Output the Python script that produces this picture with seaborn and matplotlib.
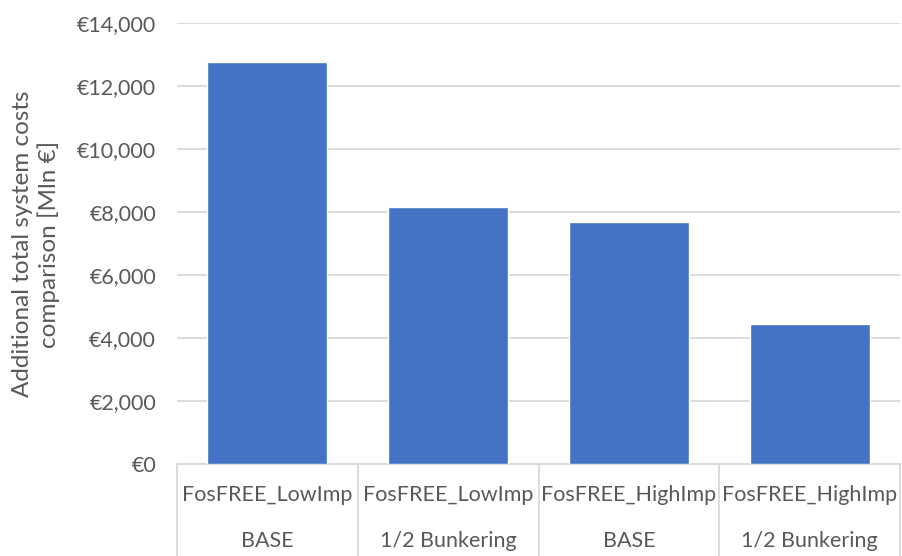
import matplotlib
matplotlib.use("Agg")
import matplotlib.pyplot as plt
import seaborn as sns
import pandas as pd
from matplotlib.ticker import FuncFormatter, FixedLocator

# ---- data ----
scenarios = ["FosFREE_LowImp", "FosFREE_LowImp", "FosFREE_HighImp", "FosFREE_HighImp"]
variants = ["BASE", "1/2 Bunkering", "BASE", "1/2 Bunkering"]
costs = [12770, 8165, 7680, 4430]
y_ticks = [0, 2000, 4000, 6000, 8000, 10000, 12000, 14000]
y_label = "Additional total system costs\ncomparison [Mln €]"

sns.set_theme(style="white")
plt.rcParams['font.family'] = ['Lato', 'DejaVu Sans']

TEXT = "#595959"
GRID = "#D9D9D9"
BAR = "#4472C4"

W, H = 902, 556
fig = plt.figure(figsize=(W / 100, H / 100), dpi=100)
x0, x1, yb, yt = 177, 900, 464, 23
ax = fig.add_axes([x0 / W, 1 - yb / H, (x1 - x0) / W, (yb - yt) / H])

df = pd.DataFrame({
    "label": [f"{s}|{v}" for s, v in zip(scenarios, variants)],
    "cost": costs,
})
sns.barplot(data=df, x="label", y="cost", color=BAR, saturation=1,
            width=0.665, ax=ax, zorder=3)

ax.set_xlim(-0.5, len(costs) - 0.5)
ax.set_ylim(0, 14000)
ax.yaxis.set_major_locator(FixedLocator(y_ticks))
ax.yaxis.set_major_formatter(FuncFormatter(lambda v, p: f"€{v:,.0f}"))
ax.grid(axis="y", color=GRID, linewidth=1.3, zorder=0)
ax.set_axisbelow(True)
for side in ["left", "right", "top"]:
    ax.spines[side].set_visible(False)
ax.spines["bottom"].set_color(GRID)
ax.spines["bottom"].set_linewidth(1.3)
ax.tick_params(axis="y", length=0, pad=15, labelsize=15.5, labelcolor=TEXT)
ax.set_xlabel("")
ax.set_ylabel("")

# category boxes
ax.set_xticks(range(len(costs)))
ax.set_xticklabels([])
ax.tick_params(axis="x", which="major", length=0, bottom=False)
ax.set_xticks([i - 0.5 for i in range(len(costs) + 1)], minor=True)
ax.tick_params(axis="x", which="minor", bottom=True, length=68, width=1.3,
               color=GRID, direction="out")

xt = ax.get_xaxis_transform()
for i, (s, v) in enumerate(zip(scenarios, variants)):
    ax.text(i, (yb - 495) / (yb - yt), s, transform=xt, ha="center", va="center",
            fontsize=15.5, color=TEXT)
    ax.text(i, (yb - 541) / (yb - yt), v, transform=xt, ha="center", va="center",
            fontsize=15.5, color=TEXT)

fig.text(36 / W, 1 - 244 / H, y_label, rotation=90, ha="center", va="center",
         multialignment="center", fontsize=17.5, color=TEXT, linespacing=1.2)

fig.savefig("out.png", dpi=100, facecolor="white")
